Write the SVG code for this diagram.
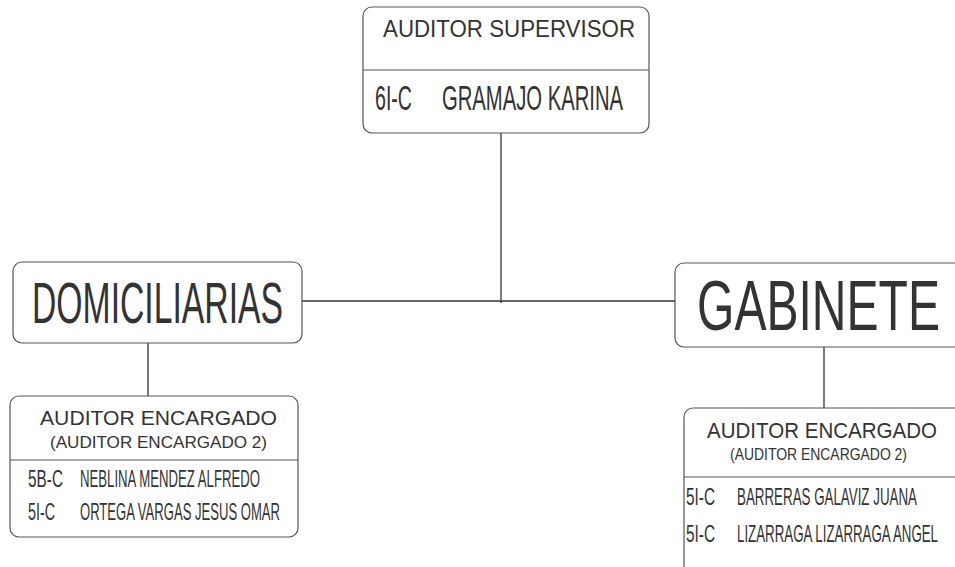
<svg xmlns="http://www.w3.org/2000/svg" width="955" height="567" viewBox="0 0 955 567">
<style>
.box{fill:#fff;stroke:#555;stroke-width:1.2}
.div{stroke:#555;stroke-width:1.2}
.con{stroke:#333;stroke-width:1.3;fill:none}
text{font-family:"Liberation Sans",Arial,sans-serif;fill:#333}
</style>
<rect width="955" height="567" fill="#fff"/>
<g id="connectors">
<line class="con" x1="501" y1="133" x2="501" y2="303"/>
<line class="con" x1="302" y1="301" x2="675" y2="301"/>
<line class="con" x1="148" y1="343" x2="148" y2="396"/>
<line class="con" x1="824" y1="347" x2="824" y2="408"/>
</g>
<g id="supervisor">
<rect class="box" x="363" y="7" width="286" height="126" rx="9"/>
<line class="div" x1="363" y1="70" x2="649" y2="70"/>
<text x="383" y="37" font-size="23" textLength="252" lengthAdjust="spacingAndGlyphs">AUDITOR SUPERVISOR</text>
<text x="375" y="110" font-size="35" textLength="37" lengthAdjust="spacingAndGlyphs">6I-C</text>
<text x="442" y="110" font-size="35" textLength="181" lengthAdjust="spacingAndGlyphs">GRAMAJO  KARINA</text>
</g>
<g id="domiciliarias">
<rect class="box" x="13" y="262" width="289" height="81" rx="9"/>
<text x="32" y="323" font-size="58" textLength="251" lengthAdjust="spacingAndGlyphs">DOMICILIARIAS</text>
</g>
<g id="gabinete">
<rect class="box" x="675" y="263" width="320" height="84" rx="9"/>
<text transform="translate(697,330) scale(1,1.46)" x="0" y="0" font-size="48" textLength="243" lengthAdjust="spacingAndGlyphs">GABINETE</text>
</g>
<g id="encargado-left">
<rect class="box" x="10" y="396" width="288" height="141" rx="9"/>
<line class="div" x1="10" y1="460" x2="298" y2="460"/>
<text x="40" y="425" font-size="21" textLength="237" lengthAdjust="spacingAndGlyphs">AUDITOR ENCARGADO</text>
<text x="50" y="448" font-size="17" textLength="217" lengthAdjust="spacingAndGlyphs">(AUDITOR ENCARGADO 2)</text>
<text x="28" y="487" font-size="24" textLength="35" lengthAdjust="spacingAndGlyphs">5B-C</text>
<text x="80" y="487" font-size="24" textLength="180" lengthAdjust="spacingAndGlyphs">NEBLINA MENDEZ ALFREDO</text>
<text x="28" y="520" font-size="24" textLength="27" lengthAdjust="spacingAndGlyphs">5I-C</text>
<text x="80" y="520" font-size="24" textLength="200" lengthAdjust="spacingAndGlyphs">ORTEGA VARGAS JESUS OMAR</text>
</g>
<g id="encargado-right">
<rect class="box" x="684" y="408" width="320" height="175" rx="9"/>
<line class="div" x1="684" y1="477" x2="955" y2="477"/>
<text x="707" y="438" font-size="22" textLength="230" lengthAdjust="spacingAndGlyphs">AUDITOR ENCARGADO</text>
<text x="730" y="460" font-size="16" textLength="177" lengthAdjust="spacingAndGlyphs">(AUDITOR ENCARGADO 2)</text>
<text x="686" y="505" font-size="24" textLength="29" lengthAdjust="spacingAndGlyphs">5I-C</text>
<text transform="translate(737,505) scale(1,1.8)" x="0" y="0" font-size="13" textLength="180" lengthAdjust="spacingAndGlyphs">BARRERAS GALAVIZ JUANA</text>
<text x="686" y="542" font-size="24" textLength="29" lengthAdjust="spacingAndGlyphs">5I-C</text>
<text transform="translate(737,542) scale(1,1.8)" x="0" y="0" font-size="13" textLength="201" lengthAdjust="spacingAndGlyphs">LIZARRAGA LIZARRAGA ANGEL</text>
</g>
</svg>
